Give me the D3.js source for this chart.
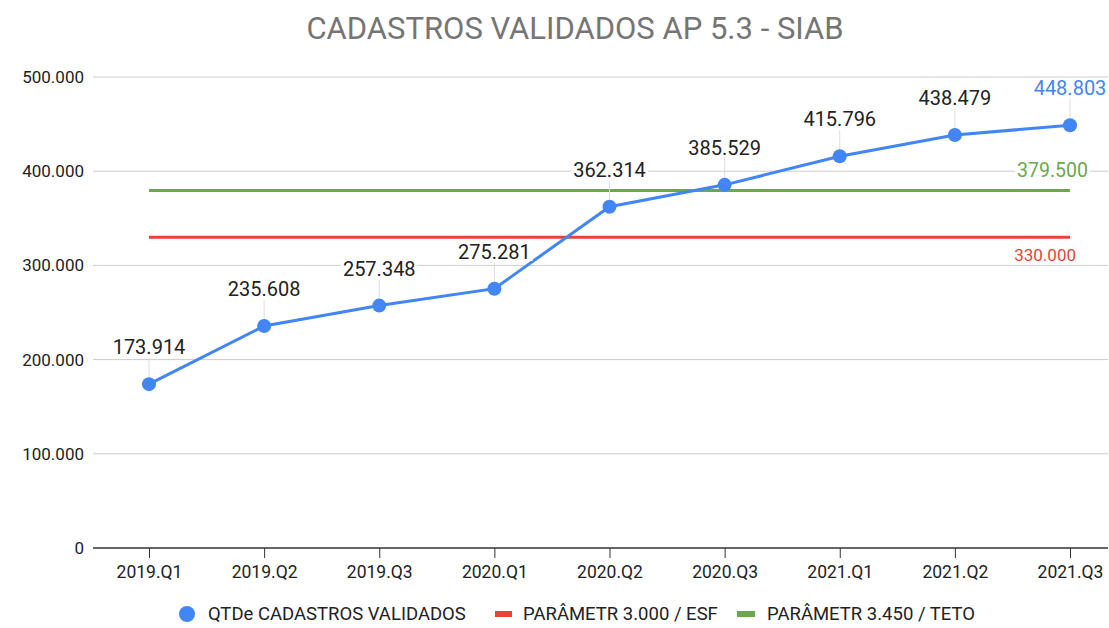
<!DOCTYPE html>
<html>
<head>
<meta charset="utf-8">
<script src="https://cdn.jsdelivr.net/npm/d3@7"></script>
<style>
  body { margin: 0; background: #fff; }
  svg text { font-family: Roboto, Arial, sans-serif; }
</style>
</head>
<body>
<section></section>
<script>
const quarters = ["2019.Q1", "2019.Q2", "2019.Q3", "2020.Q1", "2020.Q2", "2020.Q3", "2021.Q1", "2021.Q2", "2021.Q3"];
const cadastros = [173914, 235608, 257348, 275281, 362314, 385529, 415796, 438479, 448803];
const esf = 330000;
const teto = 379500;
const yTicks = [0, 100000, 200000, 300000, 400000, 500000];
const seriesNames = ["QTDe CADASTROS VALIDADOS", "PARÂMETR 3.000 / ESF", "PARÂMETR 3.450 / TETO"];

const width = 1109;
const height = 628;
const marginLeft = 93;
const marginRight = 1;
const blue = "#4285f4", red = "#ea4335", green = "#6aa84f";

// formato brasileiro: 448.803
const br = d3.formatLocale({ decimal: ",", thousands: ".", grouping: [3], currency: ["", ""] });
const fmt = br.format(",");

const x = d3.scalePoint()
    .domain(quarters)
    .range([149, 1070]);

const y = d3.scaleLinear()
    .domain([0, 500000])
    .range([548, 77]);

const svg = d3.select("section")
    .append("svg")
    .attr("width", width)
    .attr("height", height)
    .attr("viewBox", [0, 0, width, height]);

// título
svg.append("text")
    .attr("x", 575)
    .attr("y", 39)
    .attr("text-anchor", "middle")
    .attr("fill", "#757575")
    .attr("font-size", 31)
    .text("CADASTROS VALIDADOS AP 5.3 - SIAB");

// grade
svg.append("g")
    .selectAll("line")
    .data(yTicks.filter(d => d > 0))
    .join("line")
    .attr("x1", marginLeft)
    .attr("x2", width - marginRight)
    .attr("y1", d => y(d))
    .attr("y2", d => y(d))
    .attr("stroke", "#cccccc");

// eixo y
svg.append("g")
    .attr("transform", `translate(${marginLeft},0)`)
    .call(d3.axisLeft(y).tickValues(yTicks).tickFormat(fmt).tickSize(0).tickPadding(9))
    .call(g => g.select(".domain").remove())
    .call(g => g.selectAll("text").attr("font-size", 17).attr("fill", "#222").style("font-family", "Roboto, Arial, sans-serif"));

// eixo x
const xAxis = svg.append("g")
    .attr("transform", `translate(0,${y(0)})`)
    .call(d3.axisBottom(x).tickSize(10).tickPadding(8))
    .call(g => g.selectAll("text").attr("font-size", 17.5).attr("fill", "#222").style("font-family", "Roboto, Arial, sans-serif"))
    .call(g => g.selectAll(".tick line").attr("stroke", "#333"));
xAxis.select(".domain").remove();
xAxis.append("line")
    .attr("x1", marginLeft)
    .attr("x2", width - marginRight)
    .attr("stroke", "#333")
    .attr("stroke-width", 1.5);

// linhas de parâmetro
const params = [
    { v: esf, color: red, size: 17, dy: 18, right: 1076 },
    { v: teto, color: green, size: 19.5, dy: -20, right: 1088 }
];
svg.append("g")
    .selectAll("line")
    .data(params)
    .join("line")
    .attr("x1", x(quarters[0]))
    .attr("x2", x(quarters[quarters.length - 1]))
    .attr("y1", d => y(d.v))
    .attr("y2", d => y(d.v))
    .attr("stroke", d => d.color)
    .attr("stroke-width", 3);

// linha principal
const line = d3.line()
    .x((d, i) => x(quarters[i]))
    .y(d => y(d));

// linhas guia dos rótulos
svg.append("g")
    .selectAll("line")
    .data(cadastros)
    .join("line")
    .attr("x1", (d, i) => x(quarters[i]))
    .attr("x2", (d, i) => x(quarters[i]))
    .attr("y1", d => y(d) - 26)
    .attr("y2", d => y(d))
    .attr("stroke", "#dddddd");

svg.append("path")
    .datum(cadastros)
    .attr("fill", "none")
    .attr("stroke", blue)
    .attr("stroke-width", 3)
    .attr("d", line);

svg.append("g")
    .attr("fill", blue)
    .selectAll("circle")
    .data(cadastros)
    .join("circle")
    .attr("cx", (d, i) => x(quarters[i]))
    .attr("cy", d => y(d))
    .attr("r", 7);

// rótulos com fundo branco
function label(g, tx, ty, txt, color, size, anchor) {
    const t = g.append("text")
        .attr("x", tx)
        .attr("y", ty)
        .attr("text-anchor", anchor)
        .attr("dominant-baseline", "central")
        .attr("font-size", size)
        .attr("fill", color)
        .text(txt);
    const b = t.node().getBBox();
    g.insert("rect", () => t.node())
        .attr("x", b.x - 2)
        .attr("y", b.y + 3)
        .attr("width", b.width + 4)
        .attr("height", b.height - 6)
        .attr("fill", "#fff");
}

const labels = svg.append("g");
cadastros.forEach((d, i) => {
    const last = i === cadastros.length - 1;
    label(labels.append("g"), x(quarters[i]), y(d) - 37, fmt(d), last ? blue : "#222", 20, "middle");
});
params.forEach(p => {
    label(labels.append("g"), p.right, y(p.v) + p.dy, fmt(p.v), p.color, p.size, "end");
});

// legenda
const ly = 614;
const legend = svg.append("g").attr("font-size", 18.5).attr("fill", "#222");
legend.append("circle").attr("cx", 187).attr("cy", ly).attr("r", 8).attr("fill", blue);
legend.append("text").attr("x", 208).attr("y", ly).attr("dominant-baseline", "central").text(seriesNames[0]);
legend.append("rect").attr("x", 495).attr("y", ly - 3).attr("width", 17).attr("height", 6).attr("fill", red);
legend.append("text").attr("x", 523).attr("y", ly).attr("dominant-baseline", "central").text(seriesNames[1]);
legend.append("rect").attr("x", 737).attr("y", ly - 3).attr("width", 18).attr("height", 6).attr("fill", green);
legend.append("text").attr("x", 767).attr("y", ly).attr("dominant-baseline", "central").text(seriesNames[2]);
</script>
</body>
</html>
